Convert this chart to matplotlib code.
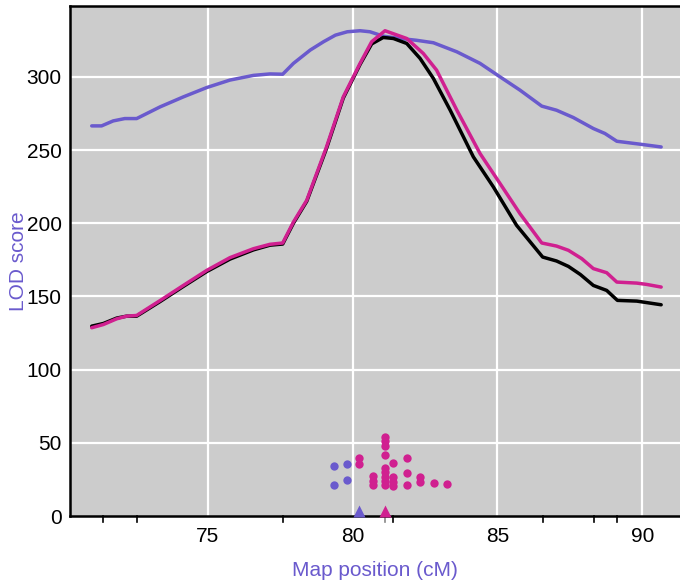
import matplotlib
matplotlib.use("Agg")
import matplotlib.pyplot as plt
from matplotlib.transforms import blended_transform_factory

plt.rcParams['font.family'] = ['Liberation Sans', 'DejaVu Sans']

# ---- data ----
pos_a = [71.0, 71.34, 71.74, 72.14, 72.55, 73.36, 74.16, 74.97, 75.77, 76.58, 77.15, 77.59,
         77.96, 78.54, 79.0, 79.41, 79.82, 80.26, 80.6, 81.06, 81.64, 82.2, 82.79, 83.6,
         84.4, 85.09, 85.78, 86.53, 87.04, 87.62, 88.31, 88.71, 89.12, 89.92, 90.65]
lod_a = [266.5, 266.5, 269.9, 271.5, 271.5, 279.5, 286.3, 292.7, 297.8, 301.0, 302.0, 301.8,
         309.2, 318.3, 324.0, 328.5, 330.8, 331.5, 330.8, 327.8, 326.2, 325.0, 323.3, 317.1,
         309.2, 300.0, 290.9, 280.0, 277.2, 272.2, 264.7, 261.3, 256.0, 254.0, 252.1]

pos_k = [71.0, 71.4, 71.86, 72.2, 72.55, 73.36, 74.16, 74.97, 75.77, 76.58, 77.15, 77.59,
         77.96, 78.42, 79.1, 79.68, 80.26, 80.66, 81.06, 81.41, 81.87, 82.33, 82.79, 83.37,
         84.17, 84.86, 85.66, 86.56, 87.04, 87.45, 87.86, 88.31, 88.77, 89.14, 89.81, 90.65]
lod_k = [129.7, 131.5, 135.2, 136.5, 136.5, 146.5, 156.8, 167.0, 175.5, 181.8, 185.0, 185.8,
         200.0, 215.0, 251.0, 285.5, 308.5, 322.5, 326.9, 326.2, 322.8, 312.6, 298.9, 277.2,
         245.3, 224.8, 198.6, 176.9, 174.2, 170.5, 165.0, 157.5, 154.1, 147.3, 146.8, 144.3]

pos_m = [71.0, 71.4, 71.86, 72.2, 72.55, 73.36, 74.16, 74.97, 75.77, 76.58, 77.15, 77.59,
         77.96, 78.42, 79.1, 79.68, 80.26, 80.66, 81.12, 81.87, 82.44, 82.9, 83.6, 84.4,
         85.09, 85.78, 86.53, 87.04, 87.45, 87.91, 88.31, 88.77, 89.12, 89.81, 90.15, 90.65]
lod_m = [128.6, 130.8, 134.7, 136.5, 137.0, 147.2, 157.5, 167.8, 176.5, 182.6, 185.6, 186.5,
         200.8, 215.7, 252.0, 286.3, 309.2, 324.0, 331.5, 326.2, 316.0, 304.6, 277.2, 247.6,
         227.1, 206.5, 186.5, 184.4, 181.5, 175.8, 169.0, 166.2, 159.8, 159.1, 158.2, 156.4]

dots_a_x = [79.37, 79.37, 79.81, 79.81]
dots_a_y = [34.4, 21.2, 35.3, 24.8]
dots_m_x = [80.23, 80.23, 80.69, 80.69, 80.69, 81.12, 81.12, 81.12, 81.12, 81.12, 81.12, 81.12,
            81.12, 81.12, 81.41, 81.41, 81.41, 81.41, 81.87, 81.87, 81.87, 82.34, 82.34, 82.8, 83.27]
dots_m_y = [39.7, 35.6, 27.6, 24.1, 21.2, 53.8, 51.0, 48.1, 41.7, 32.6, 29.8, 26.9,
            24.1, 21.2, 36.0, 26.4, 23.5, 20.5, 39.7, 29.4, 21.2, 26.4, 23.5, 22.3, 21.9]

peak_a = 80.23
peak_m = 81.12
markers = [71.38, 72.57, 77.59, 81.41, 86.56, 88.34, 89.13]

xticks = [75, 80, 85, 90]
yticks = [0, 50, 100, 150, 200, 250, 300]

c_a = "#6A5ACD"   # slateblue
c_m = "#D02090"   # violetred

fig = plt.figure(figsize=(6.8, 5.86), dpi=100)
ax = fig.add_axes([70/680, 70/586, 610/680, 510/586])
ax.set_facecolor("#CCCCCC")
ax.set_xlim(70.25, 91.3)
ax.set_ylim(0, 348.4)

for v in xticks:
    ax.axvline(v, color="white", lw=1.6, zorder=1)
for v in yticks[1:]:
    ax.axhline(v, color="white", lw=1.6, zorder=1)

ax.plot(pos_a, lod_a, color=c_a, lw=2.5, zorder=3, solid_joinstyle='round', solid_capstyle='round')
ax.plot(pos_k, lod_k, color="black", lw=2.5, zorder=4, solid_joinstyle='round', solid_capstyle='round')
ax.plot(pos_m, lod_m, color=c_m, lw=2.5, zorder=5, solid_joinstyle='round', solid_capstyle='round')

ax.plot(dots_a_x, dots_a_y, 'o', color=c_a, ms=6, mec='none', zorder=6)
ax.plot(dots_m_x, dots_m_y, 'o', color=c_m, ms=6, mec='none', zorder=6)

ax.plot([peak_a], [3.7], '^', color=c_a, ms=8, mec='none', zorder=7, clip_on=False)
ax.plot([peak_m], [3.7], '^', color=c_m, ms=8, mec='none', zorder=7, clip_on=False)

# marker rug below the x axis
trans = blended_transform_factory(ax.transData, ax.transAxes)
for m in markers:
    ax.plot([m, m], [0, -0.011], color="black", lw=1.2, transform=trans, clip_on=False, zorder=2)
ax.plot([peak_m, peak_m], [0, -0.011], color="#888888", lw=1.2, transform=trans, clip_on=False, zorder=2)

ax.set_xticks(xticks)
ax.set_yticks(yticks)
ax.tick_params(axis='both', length=0, labelsize=15, colors='black')
ax.tick_params(axis='x', pad=8)
ax.tick_params(axis='y', pad=6)

for s in ['left', 'top', 'bottom']:
    ax.spines[s].set_linewidth(1.8)
    ax.spines[s].set_color('black')
ax.spines['right'].set_visible(False)

ax.set_xlabel("Map position (cM)", color=c_a, fontsize=15, labelpad=11)
ax.set_ylabel("LOD score", color=c_a, fontsize=15, labelpad=-1)

fig.savefig("out.png", dpi=100)
